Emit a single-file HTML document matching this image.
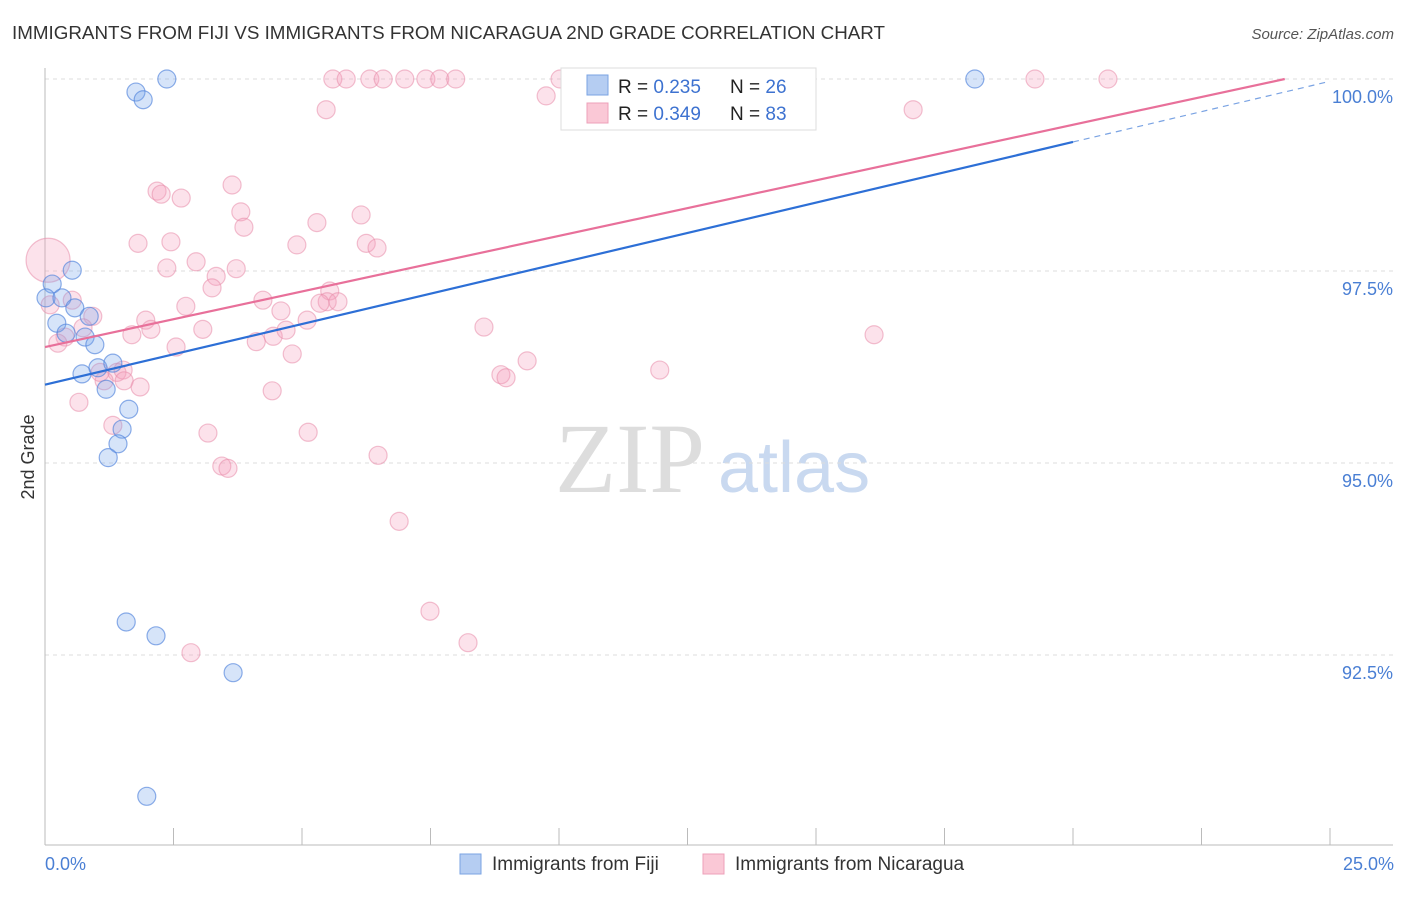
<!DOCTYPE html>
<html><head><meta charset="utf-8"><style>
body{margin:0;background:#fff;font-family:"Liberation Sans",sans-serif}
</style></head><body>
<svg width="1406" height="892" xmlns="http://www.w3.org/2000/svg" font-family="Liberation Sans, sans-serif">
<text x="12" y="39" font-size="18.5" fill="#333" textLength="873" lengthAdjust="spacingAndGlyphs">IMMIGRANTS FROM FIJI VS IMMIGRANTS FROM NICARAGUA 2ND GRADE CORRELATION CHART</text>
<text x="1394" y="39" font-size="15" fill="#555" font-style="italic" text-anchor="end">Source: ZipAtlas.com</text>
<text x="555" y="492" font-size="100" fill="#ddd" font-family="Liberation Serif, serif">ZIP</text>
<text x="718" y="492" font-size="72" fill="#c9d9f0">atlas</text>
<g id="grid"></g>
<g id="axes"></g>
<g id="pts"></g>
<g id="lines"></g>
<text transform="translate(34,457) rotate(-90)" font-size="18" fill="#333" text-anchor="middle">2nd Grade</text>
<text x="45" y="870" font-size="18" fill="#4a7fd4">0.0%</text>
<text x="1394" y="870" font-size="18" fill="#4a7fd4" text-anchor="end">25.0%</text>
<g>
<rect x="561" y="68" width="255" height="62" fill="#fff" stroke="#ddd"/>
<rect x="587" y="75" width="21" height="20" fill="#b5cdf2" stroke="#7aa3e3"/>
<rect x="587" y="103" width="21" height="20" fill="#fac8d6" stroke="#eda0b9"/>
<text x="618" y="93" font-size="19" fill="#222">R = <tspan fill="#3d72d0">0.235</tspan></text>
<text x="730" y="93" font-size="19" fill="#222">N = <tspan fill="#3d72d0">26</tspan></text>
<text x="618" y="120" font-size="19" fill="#222">R = <tspan fill="#3d72d0">0.349</tspan></text>
<text x="730" y="120" font-size="19" fill="#222">N = <tspan fill="#3d72d0">83</tspan></text>
</g>
<g>
<rect x="460" y="854" width="21" height="20" fill="#b5cdf2" stroke="#7aa3e3"/>
<text x="492" y="870" font-size="19" fill="#333">Immigrants from Fiji</text>
<rect x="703" y="854" width="21" height="20" fill="#fac8d6" stroke="#eda0b9"/>
<text x="735" y="870" font-size="19" fill="#333">Immigrants from Nicaragua</text>
</g>
</svg>
<script>
const yTicks=[100,97.5,95,92.5];
const yTickLabels=["100.0%","97.5%","95.0%","92.5%"];
const xTicks=[0,2.5,5,7.5,10,12.5,15,17.5,20,22.5,25];
const fijiX=[2.37,1.77,1.91,18.09,0.53,0.14,0.02,0.33,0.58,0.23,0.86,0.41,0.78,0.97,0.72,1.03,1.32,1.19,1.63,1.50,1.42,1.23,1.58,2.16,3.66,1.98];
const fijiY=[100,99.83,99.73,100,97.51,97.33,97.15,97.15,97.02,96.82,96.91,96.69,96.64,96.54,96.16,96.24,96.30,95.96,95.70,95.44,95.25,95.07,92.93,92.75,92.27,90.66];
const nicX=[5.60,5.86,6.32,6.58,7.00,7.41,7.68,7.99,10.02,19.26,20.68,9.75,5.47,16.89,3.64,2.18,2.26,2.65,3.81,3.87,6.15,5.29,1.81,2.45,4.90,6.25,6.46,2.37,2.94,3.72,3.33,3.25,2.74,4.24,4.59,5.54,5.49,5.35,5.70,1.96,2.06,1.69,3.07,2.55,4.11,4.44,4.69,5.10,4.81,8.54,16.13,0.93,0.53,0.10,0.39,0.25,0.74,9.38,8.87,8.97,11.96,1.40,1.52,1.54,1.15,1.85,4.42,0.66,1.32,3.17,5.12,6.48,3.44,3.56,6.89,7.49,8.23,2.84,1.07,0.06];
const nicY=[100,100,100,100,100,100,100,100,100,100,100,99.78,99.60,99.60,98.62,98.54,98.50,98.45,98.27,98.07,98.23,98.13,97.86,97.88,97.84,97.86,97.80,97.54,97.62,97.53,97.43,97.28,97.04,97.12,96.98,97.24,97.10,97.08,97.10,96.86,96.74,96.67,96.74,96.51,96.58,96.65,96.73,96.86,96.42,96.77,96.67,96.91,97.12,97.06,96.64,96.56,96.76,96.33,96.15,96.11,96.21,96.18,96.21,96.07,96.07,95.99,95.94,95.79,95.49,95.39,95.40,95.10,94.96,94.93,94.24,93.07,92.66,92.53,96.18,97.64];
const nicR=[9,9,9,9,9,9,9,9,9,9,9,9,9,9,9,9,9,9,9,9,9,9,9,9,9,9,9,9,9,9,9,9,9,9,9,9,9,9,9,9,9,9,9,9,9,9,9,9,9,9,9,9,9,9,9,9,9,9,9,9,9,9,9,9,9,9,9,9,9,9,9,9,9,9,9,9,9,9,9,22];
const fijiTrend=[96.02,99.18];
const nicTrend=[96.51,100];
const nicTrendEnd=24.12;
const NS="http://www.w3.org/2000/svg";
const X=v=>45+v*51.4, Y=v=>79+(100-v)*76.8;
function mk(tag,attrs,parent){const e=document.createElementNS(NS,tag);for(const k in attrs)e.setAttribute(k,attrs[k]);document.getElementById(parent).appendChild(e);return e;}
yTicks.forEach((t,i)=>{
  const l=mk('line',{x1:45,x2:1393,y1:Y(t),y2:Y(t),stroke:'#ddd','stroke-dasharray':'4,4'},'grid');
  
  
  const tx=mk('text',{x:1393,y:Y(t)+24,'font-size':18,fill:'#4a7fd4','text-anchor':'end'},'grid');
  tx.textContent=yTickLabels[i];
  
  
});
const ay=mk('line',{x1:45,x2:45,y1:68,y2:845,stroke:'#bbb'},'axes');


const ax=mk('line',{x1:45,x2:1393,y1:845,y2:845,stroke:'#bbb'},'axes');


xTicks.forEach(t=>{
  const l=mk('line',{x1:X(t),x2:X(t),y1:828,y2:845,stroke:'#bbb'},'axes');
  
  
});
nicX.forEach((x,i)=>{
  const c=mk('circle',{cx:X(x),cy:Y(nicY[i]),r:nicR[i],fill:'rgba(244,160,188,0.3)',stroke:'rgba(232,140,170,0.55)','stroke-width':1.2},'pts');
  
  
});
fijiX.forEach((x,i)=>{
  const c=mk('circle',{cx:X(x),cy:Y(fijiY[i]),r:9,fill:'rgba(120,165,235,0.3)',stroke:'rgba(80,130,220,0.65)','stroke-width':1.2},'pts');
  
  
});
const sl=(fijiTrend[1]-fijiTrend[0])/20;
const fl=mk('line',{x1:X(0),y1:Y(fijiTrend[0]),x2:X(20),y2:Y(fijiTrend[1]),stroke:'#2d6fd6','stroke-width':2.2},'lines');


const fd=mk('line',{x1:X(20),y1:Y(fijiTrend[1]),x2:X(25),y2:Y(fijiTrend[0]+sl*25),stroke:'#7aa3e3','stroke-width':1.2,'stroke-dasharray':'6,5'},'lines');


const nl=mk('line',{x1:X(0),y1:Y(nicTrend[0]),x2:X(nicTrendEnd),y2:Y(nicTrend[1]),stroke:'#e8709a','stroke-width':2.2},'lines');


</script>
</body></html>
